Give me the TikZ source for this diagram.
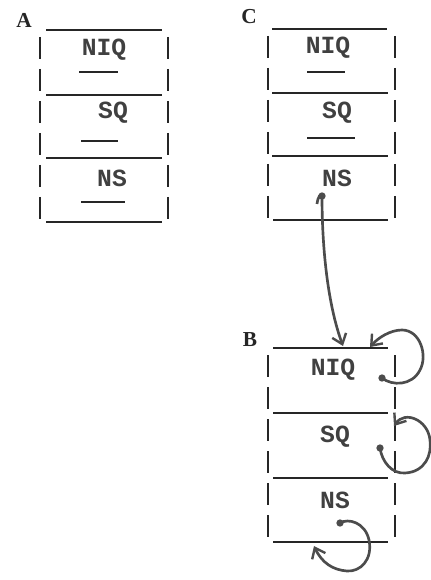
\documentclass[tikz,border=0pt]{standalone}
\usepackage{fontspec}
\setmonofont{Liberation Mono}
\newfontfamily\labelfont{Liberation Serif}
\usetikzlibrary{arrows.meta}
\begin{document}
\begin{tikzpicture}[x=0.75pt,y=-0.75pt,
 hline/.style={line width=2pt, black!85},
 side/.style={line width=1.5pt, black!85, dash pattern=on 16.5pt off 7.5pt},
 txt/.style={font=\ttfamily\bfseries\fontsize{18.5}{20}\selectfont, text=black!75, inner sep=0pt},
 lbl/.style={font=\labelfont\bfseries\fontsize{16}{18}\selectfont, text=black!85, inner sep=0pt},
 uline/.style={line width=2.2pt, black!85},
 link/.style={line width=2pt, black!70, -{Straight Barb[length=7pt,width=11pt,line width=1.8pt]}},
 dot/.style={circle, fill=black!70, inner sep=0pt, minimum size=5.5pt}]
\useasboundingbox (0,0) rectangle (430,580);

% ---------- Box A ----------
\node[lbl] (labA) at (24,20) {A};
\draw[hline] (46,30) -- (162,30);
\draw[hline] (46,95) -- (162,95);
\draw[hline] (46,158) -- (162,158);
\draw[hline] (46,222) -- (162,222);
\draw[side] (40,37) -- (40,222);
\draw[side] (168,37) -- (168,222);
\node[txt] (aniq) at (104,50) {NIQ};
\node[txt] (asq) at (113,113) {SQ};
\node[txt] (ans) at (112,178) {NS};
\draw[uline] (79,72) -- (118,72);
\draw[uline] (81,141) -- (118,141);
\draw[uline] (81,202) -- (125,202);

% ---------- Box C ----------
\node[lbl] (labC) at (249,17) {C};
\draw[hline] (272,29) -- (387,29);
\draw[hline] (272,93) -- (388,93);
\draw[hline] (272,156) -- (388,156);
\draw[hline] (273,220) -- (388,220);
\draw[side] (268,36) -- (268,220);
\draw[side] (395,36) -- (395,220);
\node[txt] (cniq) at (328,48) {NIQ};
\node[txt] (csq) at (337,113) {SQ};
\node[txt] (cns) at (337,178) {NS};
\draw[uline] (307,72) -- (345,72);
\draw[uline] (307,138) -- (355,138);

% ---------- Box B ----------
\node[lbl] (labB) at (250,340) {B};
\draw[hline] (273,348) -- (388,348);
\draw[hline] (273,413) -- (388,413);
\draw[hline] (273,478) -- (388,478);
\draw[hline] (273,542) -- (388,542);
\draw[side] (268,355) -- (268,542);
\draw[side] (395,355) -- (395,542);
\node[txt] (bniq) at (333,370) {NIQ};
\node[txt] (bsq) at (335,437) {SQ};
\node[txt] (bns) at (335,500) {NS};

% ---------- connectors ----------
\coordinate (cs) at (322,196);
\coordinate (bt) at (343,346);
\node[dot] (d0) at (cs) {};
\draw[link] (317,204) .. controls (318,196) and (321,193) .. (cs)
  .. controls (322,250) and (328,305) .. (bt);

\coordinate (l1s) at (382,378);
\coordinate (l1e) at (370,347);
\node[dot] (d1) at (l1s) {};
\draw[link] (l1s) .. controls (392,386) and (412,386) .. (420,370)
  .. controls (428,355) and (420,330) .. (402,330)
  .. controls (390,330) and (378,338) .. (l1e);

\coordinate (l2s) at (380,448);
\coordinate (l2e) at (394,426);
\node[dot] (d2) at (l2s) {};
\draw[link] (l2s) .. controls (382,462) and (392,474) .. (405,473)
  .. controls (425,472) and (432,455) .. (430,440)
  .. controls (428,420) and (405,410) .. (l2e);

\coordinate (l3s) at (340,523);
\coordinate (l3e) at (314,546);
\node[dot] (d3) at (l3s) {};
\draw[link] (l3s) .. controls (348,518) and (365,522) .. (369,540)
  .. controls (373,560) and (360,572) .. (347,571)
  .. controls (333,570) and (322,563) .. (l3e);
\end{tikzpicture}
\end{document}
